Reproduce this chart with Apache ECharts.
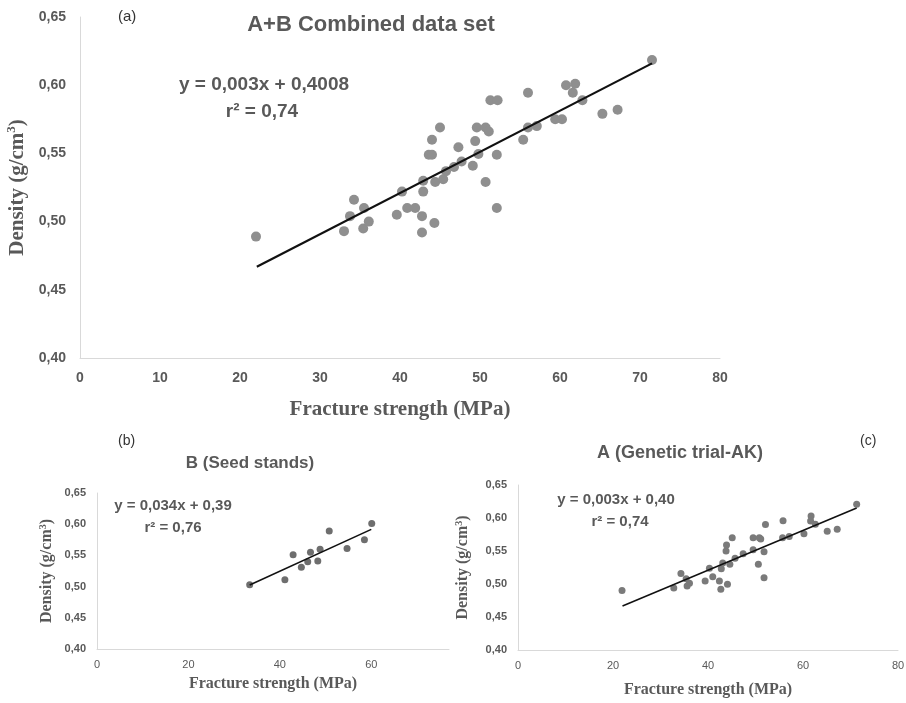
<!DOCTYPE html>
<html>
<head>
<meta charset="utf-8">
<script src="https://cdn.jsdelivr.net/npm/echarts@6/dist/echarts.min.js"></script>
<style>
    html, body { margin: 0; padding: 0; background: #fff; }
    #chart { width: 906px; height: 703px; }
</style>
</head>
<body>
<div id="chart"></div>
<script>
    // (a) A+B combined data set: [fracture strength MPa, density g/cm3]
    let combinedPoints = [
        [22.0, 0.489], [33.0, 0.493], [33.75, 0.504], [34.25, 0.516], [35.4, 0.495],
        [35.5, 0.510], [36.1, 0.500], [39.6, 0.505], [40.25, 0.522], [40.9, 0.510],
        [41.9, 0.510], [42.75, 0.504], [42.75, 0.492], [42.9, 0.522], [42.9, 0.530],
        [44.3, 0.499], [43.6, 0.549], [44.0, 0.549], [44.0, 0.560], [45.0, 0.569],
        [44.4, 0.529], [45.4, 0.531], [45.75, 0.537], [46.75, 0.540], [47.3, 0.5545],
        [47.7, 0.544], [49.1, 0.541], [49.4, 0.559], [49.6, 0.569], [49.8, 0.5495],
        [50.7, 0.529], [50.7, 0.569], [51.1, 0.566], [51.3, 0.589], [52.2, 0.589],
        [52.1, 0.549], [52.1, 0.510], [55.4, 0.560], [56.0, 0.569], [56.0, 0.5945],
        [57.1, 0.570], [59.4, 0.575], [60.25, 0.575], [60.75, 0.600], [61.9, 0.601],
        [61.6, 0.5945], [62.8, 0.589], [65.3, 0.579], [67.2, 0.582], [71.5, 0.6185]
    ];
    let combinedLine = [[22.1, 0.4669], [71.5, 0.616]];

    // (b) B seed stands
    let seedPoints = [
        [33.4, 0.503], [41.1, 0.511], [42.9, 0.551], [44.7, 0.531], [46.1, 0.540],
        [46.7, 0.555], [48.3, 0.541], [48.8, 0.560], [50.8, 0.589], [54.7, 0.561],
        [58.5, 0.575], [60.1, 0.601]
    ];
    let seedLine = [[33.4, 0.5027], [60.0, 0.5917]];

    // (c) A genetic trial-AK
    let geneticPoints = [
        [21.9, 0.490], [32.8, 0.494], [34.3, 0.516], [35.4, 0.508], [35.6, 0.497],
        [36.1, 0.501], [39.4, 0.5045], [40.3, 0.524], [41.0, 0.511], [42.4, 0.5045],
        [42.7, 0.492], [42.8, 0.523], [44.1, 0.4995], [43.1, 0.532], [43.8, 0.550],
        [43.9, 0.559], [45.1, 0.570], [44.6, 0.530], [45.7, 0.539], [47.4, 0.546],
        [49.5, 0.552], [49.5, 0.570], [50.8, 0.570], [51.1, 0.568], [50.6, 0.530],
        [51.8, 0.549], [51.8, 0.5095], [52.1, 0.590], [55.8, 0.596], [55.7, 0.570],
        [57.1, 0.572], [60.2, 0.576], [61.7, 0.603], [61.6, 0.5955], [62.6, 0.5905],
        [65.1, 0.580], [67.2, 0.583], [71.3, 0.621]
    ];
    let geneticLine = [[22.0, 0.4667], [71.3, 0.615]];

    let densityTicks = [0.40, 0.65, 0.05];

    let grey = '#595959';
    let sans = '"Liberation Sans", Arial, sans-serif';
    let serif = '"Liberation Serif", "Times New Roman", serif';

    function fmtComma(v) {
        return v.toFixed(2).replace('.', ',');
    }

    function yAxisFor(idx, labelSize, nameSize, nameGap) {
        return {
            gridIndex: idx,
            type: 'value',
            min: densityTicks[0],
            max: densityTicks[1],
            interval: densityTicks[2],
            axisLine: { show: true, lineStyle: { color: '#d9d9d9', width: 1 } },
            axisTick: { show: false },
            splitLine: { show: false },
            axisLabel: {
                formatter: fmtComma,
                color: grey,
                fontSize: labelSize,
                fontWeight: 'bold',
                fontFamily: sans,
                margin: labelSize
            },
            name: '{a|Density (g/cm}{s|3}{a|)}',
            nameLocation: 'middle',
            nameGap: nameGap,
            nameTextStyle: {
                rich: {
                    a: { fontFamily: serif, fontWeight: 'bold', fontSize: nameSize, color: grey },
                    s: { fontFamily: serif, fontWeight: 'bold', fontSize: Math.round(nameSize * 0.6), color: grey, verticalAlign: 'top', padding: [0, 0, Math.round(nameSize * 0.5), 0] }
                }
            }
        };
    }

    function xAxisFor(idx, max, interval, labelSize, labelBold, nameSize, nameGap) {
        return {
            gridIndex: idx,
            type: 'value',
            min: 0,
            max: max,
            interval: interval,
            axisLine: { show: true, lineStyle: { color: '#d9d9d9', width: 1 } },
            axisTick: { show: false },
            splitLine: { show: false },
            axisLabel: {
                color: grey,
                fontSize: labelSize,
                fontWeight: labelBold ? 'bold' : 'normal',
                fontFamily: sans,
                margin: Math.round(labelSize * 0.9),
                formatter: function (v) { return v % interval === 0 ? String(v) : ''; }
            },
            name: 'Fracture strength (MPa)',
            nameLocation: 'middle',
            nameGap: nameGap,
            nameTextStyle: { fontFamily: serif, fontWeight: 'bold', fontSize: nameSize, color: grey }
        };
    }

    function txt(x, y, text, font, color, align) {
        return {
            type: 'text',
            x: x,
            y: y,
            style: { text: text, font: font, fill: color || grey, align: align || 'left', verticalAlign: 'middle' }
        };
    }

    let myChart = echarts.init(document.getElementById('chart'));
    let option = {
        backgroundColor: '#fff',
        animation: false,
        grid: [
            { left: 80, top: 17, width: 640, height: 341, outerBoundsMode: 'none', containLabel: false },
            { left: 97, top: 493, width: 352, height: 156, outerBoundsMode: 'none', containLabel: false },
            { left: 518, top: 485, width: 380, height: 165, outerBoundsMode: 'none', containLabel: false }
        ],
        xAxis: [
            xAxisFor(0, 80, 10, 14, true, 21, 41),
            xAxisFor(1, 77, 20, 11, false, 16, 27),
            xAxisFor(2, 80, 20, 11, false, 16, 32)
        ],
        yAxis: [
            yAxisFor(0, 14, 21, 50),
            yAxisFor(1, 11, 16, 41),
            yAxisFor(2, 11, 16, 46)
        ],
        series: [
            {
                type: 'scatter', xAxisIndex: 0, yAxisIndex: 0,
                symbolSize: 10, itemStyle: { color: '#8f8f8f', opacity: 1 },
                data: combinedPoints
            },
            {
                type: 'line', xAxisIndex: 0, yAxisIndex: 0, symbol: 'none',
                lineStyle: { color: '#111', width: 2.2 }, data: combinedLine, z: 3
            },
            {
                type: 'scatter', xAxisIndex: 1, yAxisIndex: 1,
                symbolSize: 7, itemStyle: { color: '#6e6e6e', opacity: 1 },
                data: seedPoints
            },
            {
                type: 'line', xAxisIndex: 1, yAxisIndex: 1, symbol: 'none',
                lineStyle: { color: '#111', width: 1.6 }, data: seedLine, z: 3
            },
            {
                type: 'scatter', xAxisIndex: 2, yAxisIndex: 2,
                symbolSize: 7, itemStyle: { color: '#7a7a7a', opacity: 1 },
                data: geneticPoints
            },
            {
                type: 'line', xAxisIndex: 2, yAxisIndex: 2, symbol: 'none',
                lineStyle: { color: '#111', width: 1.6 }, data: geneticLine, z: 3
            }
        ],
        graphic: [
            // panel (a)
            txt(118, 17, '(a)', '15px ' + sans, '#333'),
            txt(371, 25, 'A+B Combined data set', 'bold 22px ' + sans, grey, 'center'),
            txt(264, 85, 'y = 0,003x + 0,4008', 'bold 19px ' + sans, grey, 'center'),
            txt(262, 112, 'r² = 0,74', 'bold 19px ' + sans, grey, 'center'),
            // panel (b)
            txt(118, 441, '(b)', '14px ' + sans, '#333'),
            txt(250, 463, 'B (Seed stands)', 'bold 17px ' + sans, grey, 'center'),
            txt(173, 506, 'y = 0,034x + 0,39', 'bold 15px ' + sans, grey, 'center'),
            txt(173, 528, 'r² = 0,76', 'bold 15px ' + sans, grey, 'center'),
            // panel (c)
            txt(860, 441, '(c)', '14px ' + sans, '#333'),
            txt(680, 453, 'A (Genetic trial-AK)', 'bold 18px ' + sans, grey, 'center'),
            txt(616, 500, 'y = 0,003x + 0,40', 'bold 15px ' + sans, grey, 'center'),
            txt(620, 522, 'r² = 0,74', 'bold 15px ' + sans, grey, 'center')
        ]
    };
    myChart.setOption(option);
</script>
</body>
</html>
